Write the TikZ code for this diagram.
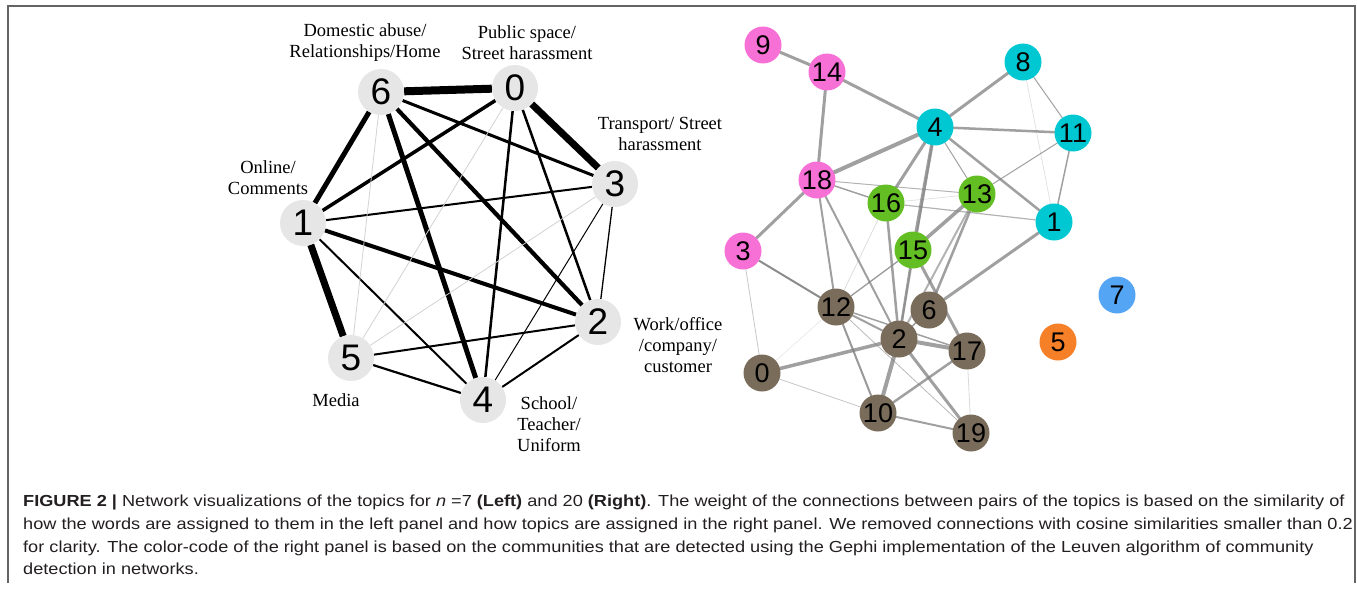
\documentclass[tikz,border=0pt]{standalone}
\usepackage{fontspec}
\setmainfont{Liberation Serif}
\newfontfamily\arialfont{Liberation Sans}
\newfontfamily\captionfont[FakeStretch=1.135]{Liberation Sans}
\usetikzlibrary{backgrounds}

\definecolor{topicgray}{RGB}{230,230,230}
\definecolor{framegray}{RGB}{100,100,100}
\definecolor{captext}{RGB}{35,31,32}
\definecolor{commpink}{RGB}{246,112,214}
\definecolor{commcyan}{RGB}{0,200,210}
\definecolor{commgreen}{RGB}{99,190,36}
\definecolor{commbrown}{RGB}{121,108,91}
\definecolor{commblue}{RGB}{85,165,245}
\definecolor{commorange}{RGB}{245,128,40}

\tikzset{
    topic/.style={circle, fill=topicgray, minimum size=46pt, inner sep=0pt,
        font=\arialfont\fontsize{37}{37}\selectfont},
    topiclabel/.style={align=center, inner sep=0pt,
        font=\fontsize{18.5}{21}\selectfont},
    comm/.style={circle, fill=#1, minimum size=37pt, inner sep=0pt,
        font=\arialfont\fontsize{27}{27}\selectfont},
    link/.style={gray, line cap=round},
}

\begin{document}
\begin{tikzpicture}[x=1pt, y=-1pt]
        \useasboundingbox (0, 0) rectangle (1357, 594);
        \draw[framegray, line width=1.5pt] (8, 583) |- (1355, 6) -- (1355, 583);

        % left panel: seven topics
        \node[topic] (l6) at (381, 92) {6};
        \node[topic] (l0) at (515, 88) {0};
        \node[topic] (l3) at (615, 184) {3};
        \node[topic] (l1) at (303, 223) {1};
        \node[topic] (l2) at (598, 322) {2};
        \node[topic] (l5) at (351, 358) {5};
        \node[topic] (l4) at (483, 400) {4};

        \node[topiclabel] (t6) at (365, 43) {Domestic abuse/\\Relationships/Home};
        \node[topiclabel] (t0) at (527, 43) {Public space/\\Street harassment};
        \node[topiclabel] (t3) at (660, 134) {Transport/ Street\\harassment};
        \node[topiclabel] (t1) at (268, 178) {Online/\\Comments};
        \node[topiclabel] (t2) at (678, 345) {Work/office\\/company/\\customer};
        \node[topiclabel] (t5) at (336, 400) {Media};
        \node[topiclabel] (t4) at (549, 424) {School/\\Teacher/\\Uniform};

        \begin{scope}[on background layer]
            \foreach \a/\b/\w in {6/0/8, 0/3/7, 1/5/7, 6/1/5, 6/4/5, 6/2/4.2, 1/2/4,
                    0/1/3.5, 6/3/3, 0/4/2.5, 0/2/2.5, 1/3/2, 1/4/2, 5/2/2, 5/4/2.2,
                    2/4/2, 3/2/1.3, 3/4/1}
                \draw[line width=\w pt] (l\a) -- (l\b);
            \foreach \a/\b in {6/5, 0/5, 5/3}
                \draw[gray!35, line width=0.8pt] (l\a) -- (l\b);
        \end{scope}

        % right panel: twenty topics, coloured by community
        \node[comm=commpink] (r9) at (763, 45) {9};
        \node[comm=commpink] (r14) at (827, 72) {14};
        \node[comm=commpink] (r18) at (817, 180) {18};
        \node[comm=commpink] (r3) at (743, 251) {3};
        \node[comm=commcyan] (r8) at (1023, 62) {8};
        \node[comm=commcyan] (r4) at (935, 127) {4};
        \node[comm=commcyan] (r11) at (1073, 133) {11};
        \node[comm=commcyan] (r1) at (1054, 222) {1};
        \node[comm=commgreen] (r16) at (886, 203) {16};
        \node[comm=commgreen] (r13) at (977, 194) {13};
        \node[comm=commgreen] (r15) at (913, 250) {15};
        \node[comm=commbrown] (r12) at (836, 307) {12};
        \node[comm=commbrown] (r6) at (929, 310) {6};
        \node[comm=commbrown] (r2) at (899, 339) {2};
        \node[comm=commbrown] (r17) at (967, 351) {17};
        \node[comm=commbrown] (r0) at (762, 373) {0};
        \node[comm=commbrown] (r10) at (878, 413) {10};
        \node[comm=commbrown] (r19) at (971, 433) {19};
        \node[comm=commblue] (r7) at (1117, 295) {7};
        \node[comm=commorange] (r5) at (1058, 342) {5};

        \begin{scope}[on background layer]
            \foreach \a/\b/\w/\o in {9/14/3/.75, 14/4/3/.75, 14/18/3/.75, 8/4/3/.75,
                    8/11/1/.75, 8/1/0.7/.25, 4/11/2.5/.75, 4/18/4/.75, 4/16/3/.75,
                    4/15/3.5/.75, 4/13/1/.75, 4/1/2.5/.75, 4/2/2/.5, 11/1/1.5/.75,
                    11/13/1/.75, 18/16/1.5/.75, 18/13/1/.6, 16/13/0.7/.25, 16/1/1.2/.6,
                    18/3/3/.75, 18/12/2/.75, 18/2/2/.75, 13/15/3.5/.75, 13/6/2.5/.75,
                    13/2/2/.6, 16/2/2.5/.75, 16/12/0.7/.3, 15/2/2.5/.75, 15/17/3/.75,
                    15/12/1.3/.8, 6/1/3/.75, 6/2/1.5/.75, 3/12/2/.9, 3/0/0.8/.45,
                    0/12/0.6/.2, 0/2/3.5/.75, 0/10/0.8/.45, 12/2/2/.75, 12/17/1.5/.75,
                    12/10/2/.8, 12/19/0.8/.55, 2/17/4/.75, 2/10/4/.75, 2/19/3/.75,
                    17/10/2.5/.75, 17/19/0.8/.3, 10/19/2/.75}
                \draw[link, line width=\w pt, opacity=\o] (r\a) -- (r\b);
        \end{scope}

        % caption
        \node[anchor=north west, align=left, inner sep=0pt, text=captext,
            font=\captionfont\fontsize{16}{22.7}\selectfont] (caption) at (23, 495)
            {\textbf{FIGURE 2 |} Network visualizations of the topics for \textit{n} =7
            \textbf{(Left)} and 20 \textbf{(Right)}. The weight of the connections between
            pairs of the topics is based on the similarity of\\
            how the words are assigned to them in the left panel and how topics are
            assigned in the right panel. We removed connections with cosine similarities
            smaller than 0.2\\
            for clarity. The color-code of the right panel is based on the communities
            that are detected using the Gephi implementation of the Leuven algorithm of
            community\\
            detection in networks.};
\end{tikzpicture}
\end{document}
